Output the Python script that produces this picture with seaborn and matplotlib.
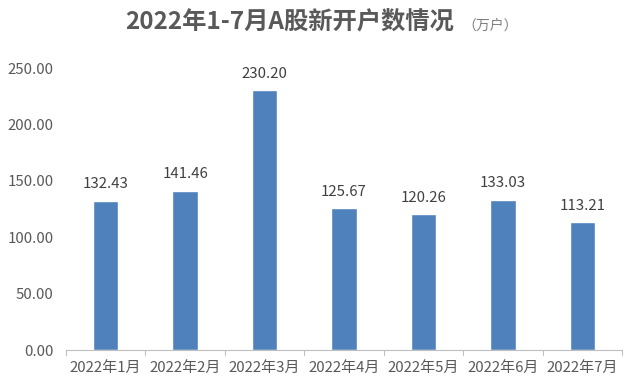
import matplotlib
matplotlib.use("Agg")
import matplotlib.pyplot as plt
import seaborn as sns
import pandas as pd

months = ["2022年1月", "2022年2月", "2022年3月", "2022年4月", "2022年5月", "2022年6月", "2022年7月"]
values = [132.43, 141.46, 230.20, 125.67, 120.26, 133.03, 113.21]
yticks = [0, 50, 100, 150, 200, 250]

sns.set_theme(style="white")
plt.rcParams['font.family'] = ['Noto Sans CJK SC', 'DejaVu Sans']

df = pd.DataFrame({"month": months, "value": values})
fig = plt.figure(figsize=(6.4, 3.89), dpi=100)
ax = fig.add_axes([0.103, 0.100, 0.869, 0.725])
sns.barplot(data=df, x="month", y="value", color="#4F81BD", saturation=1, width=0.32, ax=ax)

gray = "#595959"
ax.set_ylim(0, 250)
ax.set_xlim(-0.5, len(months) - 0.5)
ax.set_yticks(yticks)
ax.set_yticklabels([f"{v:.2f}" for v in yticks], color=gray, fontsize=10.8)
ax.tick_params(axis="y", length=0, pad=9)
ax.tick_params(axis="x", length=0, pad=8, labelsize=10.8, labelcolor=gray)
ax.set_xlabel("")
ax.set_ylabel("")
for s in ["top", "right", "left"]:
    ax.spines[s].set_visible(False)
ax.spines["bottom"].set_color("#BFBFBF")
ax.spines["bottom"].set_linewidth(0.8)
# boundary tick marks
for b in [i - 0.5 for i in range(len(months) + 1)]:
    ax.plot([b, b], [0, -0.018], transform=ax.get_xaxis_transform(), color="#BFBFBF", lw=0.8, clip_on=False)

for i, v in enumerate(values):
    ax.annotate(f"{v:.2f}", (i, v), xytext=(0, 7), textcoords="offset points",
                ha="center", va="bottom", fontsize=10.8, color="#404040")

fig.text(0.195, 0.943, "2022年1-7月A股新开户数情况", ha="left", va="center",
         fontsize=17.5, fontweight="bold", color="#595959")
fig.text(0.722, 0.935, "（万户）", ha="left", va="center", fontsize=10, color="#7F7F7F")

fig.savefig("out.png", dpi=100)
